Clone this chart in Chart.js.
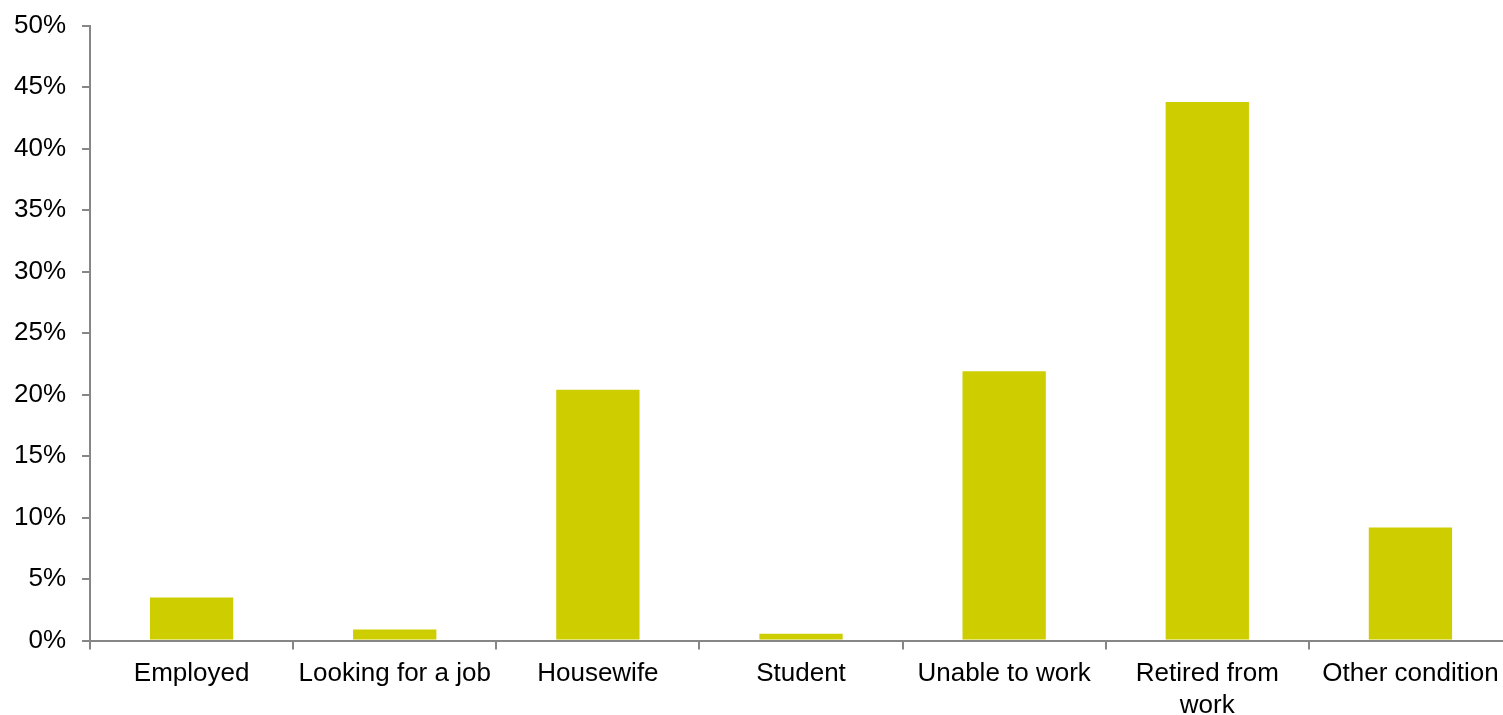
<!DOCTYPE html>
<html>
<head>
<meta charset="utf-8">
<script src="https://cdn.jsdelivr.net/npm/chart.js@4/dist/chart.umd.min.js"></script>
<style>
 html, body { margin: 0; padding: 0; background: #fff; overflow: hidden; }
 #wrap { width: 1512px; height: 715px; position: relative; }
</style>
</head>
<body>
<div id="wrap"><canvas id="chart"></canvas></div>
<script>
// categorias e valores (%)
const categories = ["Employed", "Looking for a job", "Housewife", "Student", "Unable to work", ["Retired from", "work"], "Other condition"];
const shares = [3.5, 0.9, 20.4, 0.55, 21.9, 43.8, 9.2];
const yTicks = [0, 5, 10, 15, 20, 25, 30, 35, 40, 45, 50];

const axisGray = "#868686";
const font = { family: "'Liberation Sans', Arial, sans-serif", size: 26 };

new Chart(document.getElementById("chart"), {
 type: "bar",
 data: {
  labels: categories,
  datasets: [{
   data: shares,
   backgroundColor: "#CDCD00",
   barPercentage: 0.41,
   categoryPercentage: 1
  }]
 },
 options: {
  responsive: true,
  maintainAspectRatio: false,
  animation: false,
  layout: { padding: { top: 2, left: -2, right: 0, bottom: -15 } },
  plugins: { legend: { display: false }, tooltip: { enabled: false } },
  scales: {
   x: {
    grid: { display: true, drawOnChartArea: false, offset: true, color: axisGray, tickLength: 9, lineWidth: 2 },
    border: { color: axisGray, width: 2 },
    ticks: { color: "#000", font, maxRotation: 0, autoSkip: false, padding: 9 }
   },
   y: {
    min: 0,
    max: 50,
    afterBuildTicks: (axis) => { axis.ticks = yTicks.map(v => ({ value: v })); },
    grid: { display: true, drawOnChartArea: false, color: axisGray, tickLength: 8, lineWidth: 2 },
    border: { color: axisGray, width: 2 },
    ticks: { color: "#000", font: { ...font, lineHeight: 0.75 }, padding: 16, callback: v => v + "%" }
   }
  }
 }
});
</script>
</body>
</html>
